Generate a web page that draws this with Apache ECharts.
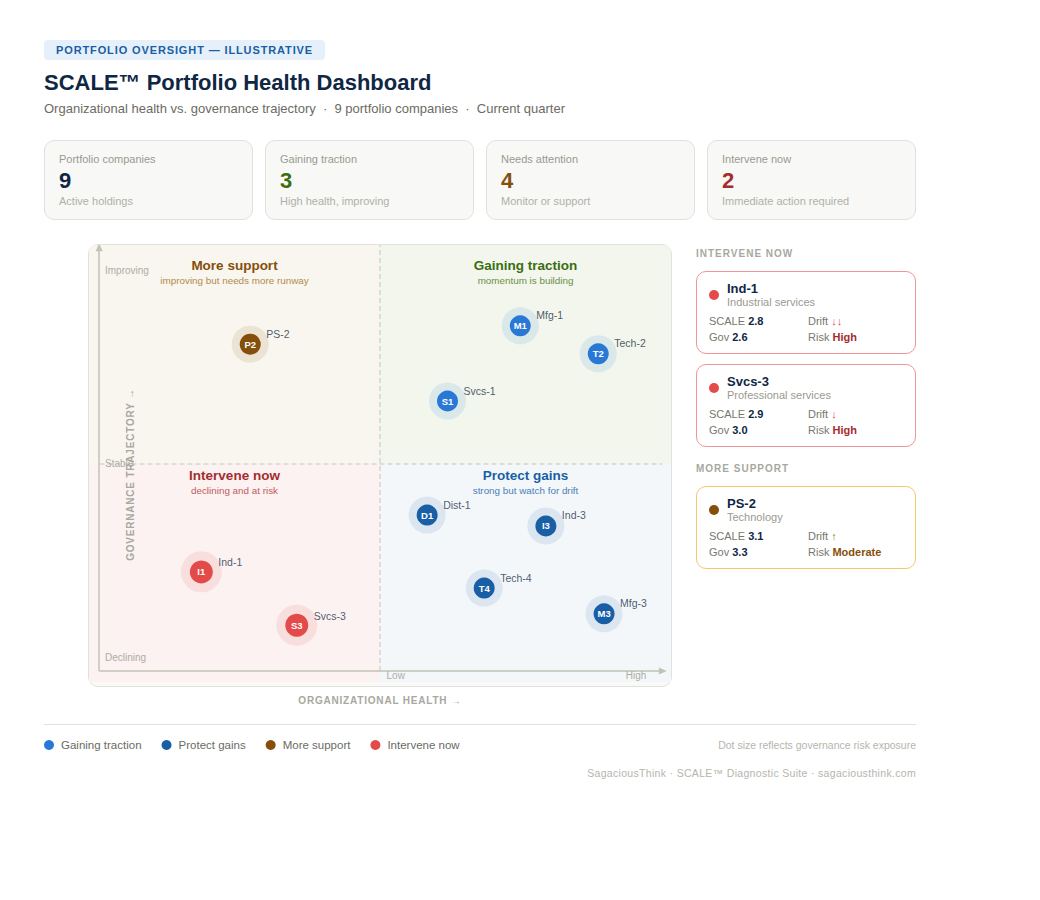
<!DOCTYPE html>
<html>
<head>
<meta charset="utf-8">
<title>SCALE Portfolio Health Dashboard</title>
<script src="https://cdn.jsdelivr.net/npm/echarts@6/dist/echarts.min.js"></script>
<style>
  * { box-sizing: border-box; }
  body { margin: 0; background: #fff; font-family: "Liberation Sans", Arial, sans-serif; color: #0f2744; }
  .page { position: relative; width: 1040px; height: 900px; }
  .badge { position: absolute; left: 44px; top: 40px; height: 20px; line-height: 20px; padding: 0 12px; border-radius: 4px;
    background: #e6f0fa; color: #185fa5; font-size: 11px; font-weight: 700; letter-spacing: 0.88px; }
  h1 { position: absolute; left: 44px; top: 69px; margin: 0; font-size: 22px; line-height: 28px; font-weight: 700; color: #0f2744; }
  .sub { position: absolute; left: 44px; top: 100px; font-size: 13px; line-height: 17px; color: #6b6b63; white-space: pre; }
  .kpi { position: absolute; top: 140px; width: 209px; height: 80px; background: #f8f8f6; border: 1px solid #e2e2dc; border-radius: 10px; padding: 12px 14px; }
  .kpi .l { font-size: 11px; line-height: 13px; color: #9a9a91; }
  .kpi .n { position: relative; top: 1px; font-size: 22px; line-height: 28px; font-weight: 700; }
  .kpi .s { font-size: 11px; line-height: 13px; margin-top: 1px; color: #b0b0a8; }
  .panel { position: absolute; left: 88px; top: 244px; width: 584px; height: 443px; background: #f9f9f7; border: 1px solid #e2e2dc; border-radius: 10px; }
  #chart { position: absolute; left: 44px; top: 244px; width: 628px; height: 520px;
    clip-path: path("M45 10 Q45 1 54 1 L618 1 Q627 1 627 10 L627 445 L628 445 L628 520 L0 520 L0 445 L45 445 Z"); }
  #chart text[style*="Arimo"] { letter-spacing: 0.8px; }
  .head { position: absolute; left: 696px; font-size: 10px; line-height: 12px; font-weight: 700; letter-spacing: 1px; color: #a8a89f; }
  .card { position: absolute; left: 696px; width: 220px; height: 83px; background: #fff; border: 1px solid #f09595; border-radius: 10px; }
  .card.amber { border-color: #f6c56f; }
  .card i { position: absolute; left: 12px; top: 18px; width: 10px; height: 10px; border-radius: 50%; background: #e24b4a; }
  .card.amber i { background: #854f0b; }
  .card .t { position: absolute; left: 30px; top: 9px; font-size: 13px; line-height: 16px; font-weight: 700; color: #0f2744; }
  .card .d { position: absolute; left: 30px; top: 24px; font-size: 11px; line-height: 13px; color: #9a9a91; }
  .card span { position: absolute; font-size: 11px; line-height: 13px; color: #77776e; white-space: pre; }
  .card b { color: #0f2744; }
  .card b.h { color: #a32d2d; }
  .card b.m { color: #854f0b; }
  .card em { font-style: normal; color: #e24b4a; }
  .card.amber em { color: #639922; }
  .rule { position: absolute; left: 44px; top: 724px; width: 872px; height: 1px; background: #e2e2dc; }
  .note { position: absolute; right: 124px; font-size: 10.5px; line-height: 13px; color: #b5b5ad; white-space: pre; }
</style>
</head>
<body>
<div class="page">
  <div class="badge">PORTFOLIO OVERSIGHT — ILLUSTRATIVE</div>
  <h1>SCALE™ Portfolio Health Dashboard</h1>
  <div class="sub">Organizational health vs. governance trajectory  ·  9 portfolio companies  ·  Current quarter</div>

  <div class="kpi" style="left:44px"><div class="l">Portfolio companies</div><div class="n" style="color:#0f2744">9</div><div class="s">Active holdings</div></div>
  <div class="kpi" style="left:265px"><div class="l">Gaining traction</div><div class="n" style="color:#3b6d11">3</div><div class="s">High health, improving</div></div>
  <div class="kpi" style="left:486px"><div class="l">Needs attention</div><div class="n" style="color:#854f0b">4</div><div class="s">Monitor or support</div></div>
  <div class="kpi" style="left:707px"><div class="l">Intervene now</div><div class="n" style="color:#a32d2d">2</div><div class="s">Immediate action required</div></div>

  <div class="panel"></div>
  <div id="chart"></div>

  <div class="head" style="top:248px">INTERVENE NOW</div>
  <div class="card" style="top:271px"><i></i><div class="t">Ind-1</div><div class="d">Industrial services</div>
    <span style="left:12px;top:43px">SCALE <b>2.8</b></span><span style="left:111px;top:43px">Drift <em>↓↓</em></span>
    <span style="left:12px;top:59px">Gov <b>2.6</b></span><span style="left:111px;top:59px">Risk <b class="h">High</b></span></div>
  <div class="card" style="top:364px"><i></i><div class="t">Svcs-3</div><div class="d">Professional services</div>
    <span style="left:12px;top:43px">SCALE <b>2.9</b></span><span style="left:111px;top:43px">Drift <em>↓</em></span>
    <span style="left:12px;top:59px">Gov <b>3.0</b></span><span style="left:111px;top:59px">Risk <b class="h">High</b></span></div>
  <div class="head" style="top:463px">MORE SUPPORT</div>
  <div class="card amber" style="top:486px"><i></i><div class="t">PS-2</div><div class="d">Technology</div>
    <span style="left:12px;top:43px">SCALE <b>3.1</b></span><span style="left:111px;top:43px">Drift <em>↑</em></span>
    <span style="left:12px;top:59px">Gov <b>3.3</b></span><span style="left:111px;top:59px">Risk <b class="m">Moderate</b></span></div>

  <div class="rule"></div>
  <div class="note" style="top:739px">Dot size reflects governance risk exposure</div>
  <div class="note" style="top:767px;letter-spacing:0.32px">SagaciousThink · SCALE™ Diagnostic Suite · sagaciousthink.com</div>
</div>

<script>
const companyNames = ["Mfg-1", "Tech-2", "Svcs-1", "PS-2", "Dist-1", "Ind-3", "Tech-4", "Mfg-3", "Ind-1", "Svcs-3"];
const companyCodes = ["M1", "T2", "S1", "P2", "D1", "I3", "T4", "M3", "I1", "S3"];
const companyGroups = ["Gaining traction", "Gaining traction", "Gaining traction", "More support", "Protect gains", "Protect gains", "Protect gains", "Protect gains", "Intervene now", "Intervene now"];
const healthValues = [74.1, 87.5, 61.6, 27.7, 58.1, 78.5, 67.9, 88.5, 19.3, 35.7];
const trajectoryValues = [81.5, 75.1, 64.3, 77.3, 38.2, 35.7, 21.5, 15.6, 25.2, 13.0];

const legendNames = ["Gaining traction", "Protect gains", "More support", "Intervene now"];
const xTickValues = [52.7, 94];
const xTickLabels = ["Low", "High"];
const yTickValues = [5.7, 50, 94.1];
const yTickLabels = ["Declining", "Stable", "Improving"];

const groupColors = {
  "Gaining traction": "#2a78d6",
  "Protect gains": "#185fa5",
  "More support": "#854f0b",
  "Intervene now": "#e24b4a",
};

const quadrants = [
  { name: "More support", note: "improving but needs more runway", x: [0, 50], y: [50, 100], bg: "#f9f6ef", title: "#854f0b", sub: "#b08a4e", gap: 12 },
  { name: "Gaining traction", note: "momentum is building", x: [50, 100], y: [50, 100], bg: "#f2f6ec", title: "#3b6d11", sub: "#6b8f45", gap: 12 },
  { name: "Intervene now", note: "declining and at risk", x: [0, 50], y: [0, 50], bg: "#fbf2f1", title: "#a32d2d", sub: "#c25a60", gap: 3.5 },
  { name: "Protect gains", note: "strong but watch for drift", x: [50, 100], y: [0, 50], bg: "#f4f7fa", title: "#185fa5", sub: "#4a7fb5", gap: 3.5 },
];

const axisColor = "#c2c2b6";
const tickColor = "#adada4";
const indices = companyNames.map((_, i) => i);

const haloSeries = legendNames.map((group) => {
  const big = group === "Intervene now";
  const size = big ? 41 : 37;
  return {
    type: "scatter",
    name: group + " halo",
    z: 3,
    symbolSize: size,
    itemStyle: { color: groupColors[group] + "24" },
    label: {
      show: true,
      position: big ? [size / 2 + 17, size / 2 - 15] : [size / 2 + 16, size / 2 - 16],
      formatter: (p) => p.data.name,
      color: "#22304a",
      fontSize: 10.5,
      fontFamily: "Liberation Sans",
    },
    data: indices.filter((i) => companyGroups[i] === group).map((i) => ({
      name: companyNames[i],
      value: [healthValues[i], trajectoryValues[i]],
    })),
  };
});

const coreSeries = legendNames.map((group) => ({
  type: "scatter",
  name: group,
  z: 4,
  symbolSize: group === "Intervene now" ? 23 : 21,
  itemStyle: { color: groupColors[group], opacity: 1 },
  label: {
    show: true,
    position: "inside",
    formatter: (p) => p.data.name,
    color: "#fff",
    fontSize: 9.5,
    fontWeight: "bold",
    fontFamily: "Liberation Sans",
  },
  data: indices.filter((i) => companyGroups[i] === group).map((i) => ({
    name: companyCodes[i],
    value: [healthValues[i], trajectoryValues[i]],
  })),
}));

const chart = echarts.init(document.getElementById("chart"), null, { renderer: "svg" });
chart.setOption({
  animation: false,
  textStyle: { fontFamily: "Liberation Sans" },
  grid: { left: 45, top: 1, width: 582, height: 437 },
  legend: {
    data: legendNames,
    left: 0,
    top: 495,
    padding: 0,
    icon: "circle",
    itemWidth: 10,
    itemHeight: 10,
    itemGap: 20,
    textStyle: { color: "#6b6b63", fontSize: 11.5, padding: [0, 0, 0, 2] },
    selectedMode: false,
  },
  xAxis: {
    type: "value",
    min: 0,
    max: 100,
    z: 5,
    name: "ORGANIZATIONAL HEALTH →",
    nameLocation: "middle",
    nameGap: 13,
    nameMoveOverlap: false,
    nameTextStyle: { color: "#a8a89f", fontSize: 10, fontWeight: "bold", fontFamily: "Arimo, Liberation Sans" },
    axisLine: { show: false },
    axisTick: { show: false },
    splitLine: { show: false },
    axisLabel: {
      inside: true,
      margin: 2,
      customValues: xTickValues,
      formatter: (v) => xTickLabels[xTickValues.indexOf(v)],
      color: tickColor,
      fontSize: 10,
      showMinLabel: true,
      showMaxLabel: true,
    },
  },
  yAxis: {
    type: "value",
    min: 0,
    max: 100,
    z: 5,
    name: "GOVERNANCE TRAJECTORY →",
    nameLocation: "middle",
    nameRotate: 90,
    nameGap: -46,
    nameMoveOverlap: false,
    nameTextStyle: { color: "#a8a89f", fontSize: 10, fontWeight: "bold", fontFamily: "Arimo, Liberation Sans", padding: [0, 22, 0, 0] },
    axisLine: { show: false },
    axisTick: { show: false },
    splitLine: { show: false },
    axisLabel: {
      inside: true,
      margin: 16,
      customValues: yTickValues,
      formatter: (v) => yTickLabels[yTickValues.indexOf(v)],
      color: tickColor,
      fontSize: 10,
    },
  },
  series: [
    {
      type: "line",
      name: "quadrants",
      data: [],
      silent: true,
      markArea: {
        silent: true,
        data: quadrants.map((q) => [
          {
            name: q.name,
            coord: [q.x[0], q.y[0]],
            itemStyle: { color: q.bg },
            label: {
              show: true,
              position: "insideTop",
              distance: q.gap,
              formatter: "{t|" + q.name + "}\n{s|" + q.note + "}",
              rich: {
                t: { fontSize: 13.5, fontWeight: "bold", lineHeight: 16, color: q.title, align: "center" },
                s: { fontSize: 9.85, lineHeight: 14, color: q.sub, align: "center" },
              },
            },
          },
          { coord: [q.x[1], q.y[1]] },
        ]),
      },
      markLine: {
        silent: true,
        symbol: "none",
        label: { show: false },
        lineStyle: { color: "#d6d6ce", width: 1.5, type: [5, 3] },
        data: [
          [{ coord: [49.9, 2.5] }, { coord: [49.9, 100] }],
          [{ coord: [1.8, 50] }, { coord: [98.5, 50] }],
        ],
      },
    },
    {
      type: "line",
      name: "axes",
      data: [],
      silent: true,
      z: 2,
      markLine: {
        silent: true,
        symbol: ["none", "triangle"],
        symbolSize: [7, 8],
        label: { show: false },
        lineStyle: { color: axisColor, width: 1.5, type: "solid" },
        data: [
          [{ coord: [1.75, 2.5] }, { coord: [1.75, 99.5] }],
          [{ coord: [1.75, 2.5] }, { coord: [98.6, 2.5] }],
        ],
      },
    },
    ...haloSeries,
    ...coreSeries,
  ],
});
</script>
</body>
</html>
